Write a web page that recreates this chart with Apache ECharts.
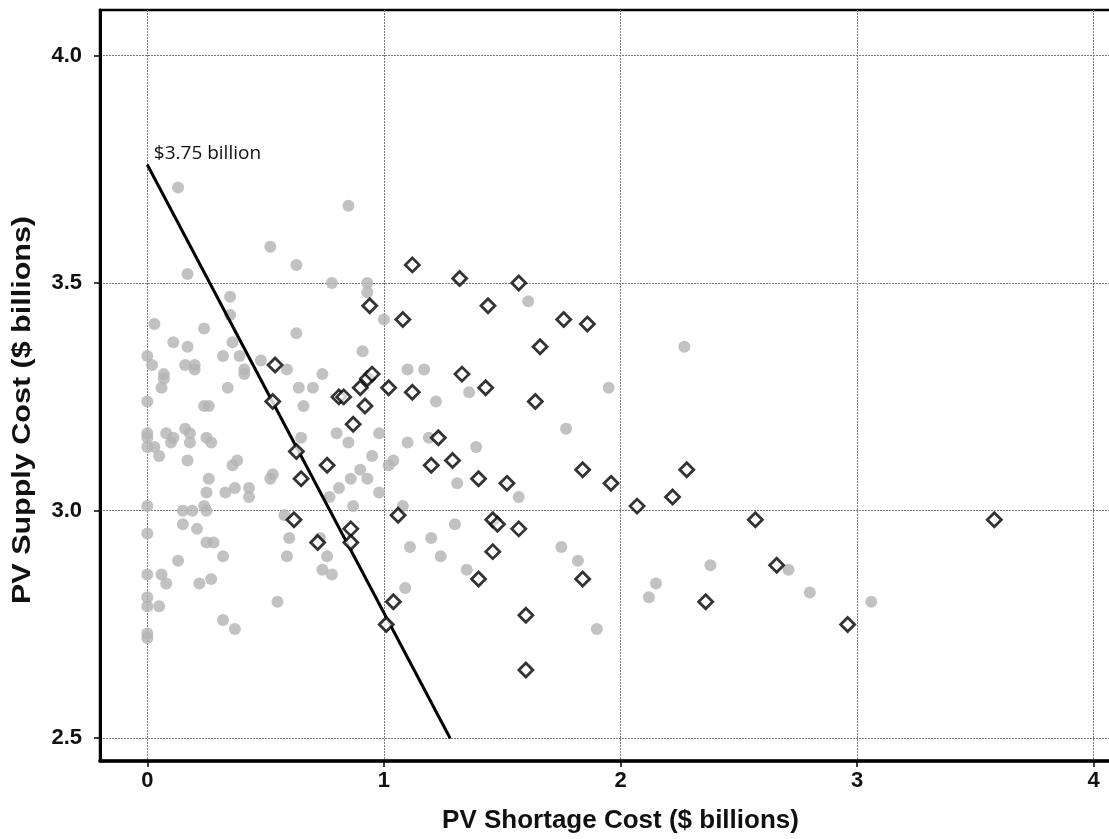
<!DOCTYPE html>
<html>
<head>
<meta charset="utf-8">
<script src="https://cdn.jsdelivr.net/npm/echarts@6/dist/echarts.min.js"></script>
<style>
html,body{margin:0;padding:0;background:#fff;}
#chart{width:1109px;height:839px;}
</style>
</head>
<body>
<div id="chart"></div>
<script>
// ---- Data (PV Shortage Cost, PV Supply Cost), $ billions ----
const grayPoints = [
  [0.13,3.71],[0.85,3.67],[0.52,3.58],[0.63,3.54],[0.17,3.52],[0.78,3.50],[0.93,3.50],[0.93,3.48],
  [0.35,3.47],[0.35,3.43],[1.00,3.42],[0.03,3.41],[0.24,3.40],[0.63,3.39],[1.61,3.46],[0.11,3.37],
  [0.17,3.36],[0.36,3.37],[2.27,3.36],[0.91,3.35],[0.00,3.34],[0.02,3.32],[0.32,3.34],[0.39,3.34],
  [0.48,3.33],[0.59,3.31],[0.16,3.32],[0.20,3.32],[0.20,3.31],[0.07,3.30],[0.07,3.29],[0.06,3.27],
  [0.41,3.31],[0.41,3.30],[0.34,3.27],[0.64,3.27],[0.70,3.27],[0.74,3.30],[1.10,3.31],[1.17,3.31],
  [1.36,3.26],[1.95,3.27],[0.00,3.24],[0.24,3.23],[0.26,3.23],[0.66,3.23],[1.22,3.24],[1.77,3.18],
  [0.00,3.17],[0.00,3.16],[0.08,3.17],[0.11,3.16],[0.10,3.15],[0.16,3.18],[0.18,3.17],[0.18,3.15],
  [0.25,3.16],[0.27,3.15],[0.65,3.16],[0.80,3.17],[0.85,3.15],[0.98,3.17],[1.10,3.15],[1.19,3.16],
  [1.39,3.14],[0.00,3.14],[0.03,3.14],[0.05,3.12],[0.17,3.11],[0.36,3.10],[0.38,3.11],[0.53,3.08],
  [0.52,3.07],[0.26,3.07],[0.95,3.12],[1.04,3.11],[1.02,3.10],[0.90,3.09],[0.93,3.07],[0.86,3.07],
  [0.81,3.05],[0.77,3.03],[0.98,3.04],[1.31,3.06],[1.57,3.03],[0.25,3.04],[0.33,3.04],[0.37,3.05],
  [0.43,3.05],[0.43,3.03],[0.00,3.01],[0.15,3.00],[0.19,3.00],[0.24,3.01],[0.25,3.00],[0.58,2.99],
  [0.87,3.01],[1.08,3.01],[1.30,2.97],[0.15,2.97],[0.21,2.96],[0.00,2.95],[0.25,2.93],[0.28,2.93],
  [0.60,2.94],[0.73,2.94],[1.20,2.94],[0.32,2.90],[0.59,2.90],[0.13,2.89],[0.76,2.90],[0.74,2.87],
  [0.78,2.86],[1.11,2.92],[1.24,2.90],[1.35,2.87],[1.75,2.92],[1.82,2.89],[0.00,2.86],[0.06,2.86],
  [0.08,2.84],[0.22,2.84],[0.27,2.85],[1.09,2.83],[0.00,2.81],[0.00,2.79],[0.05,2.79],[0.55,2.80],
  [0.32,2.76],[0.37,2.74],[0.00,2.73],[0.00,2.72],[2.15,2.84],[2.12,2.81],[1.90,2.74],[2.38,2.88],
  [2.71,2.87],[2.80,2.82],[3.06,2.80]
];
const diamondPoints = [
  [1.12,3.54],[1.32,3.51],[1.57,3.50],[1.44,3.45],[0.94,3.45],[1.08,3.42],[1.76,3.42],[1.86,3.41],
  [1.66,3.36],[0.54,3.32],[1.33,3.30],[0.93,3.29],[0.95,3.30],[0.90,3.27],[1.02,3.27],[1.43,3.27],
  [1.12,3.26],[0.81,3.25],[0.83,3.25],[0.53,3.24],[1.64,3.24],[0.92,3.23],[0.87,3.19],[1.23,3.16],
  [0.63,3.13],[1.20,3.10],[1.29,3.11],[0.76,3.10],[0.65,3.07],[1.40,3.07],[1.52,3.06],[1.84,3.09],
  [1.96,3.06],[2.28,3.09],[2.22,3.03],[2.07,3.01],[0.62,2.98],[1.06,2.99],[1.46,2.98],[1.48,2.97],
  [1.57,2.96],[2.57,2.98],[3.58,2.98],[0.86,2.96],[0.86,2.93],[0.72,2.93],[1.46,2.91],[1.40,2.85],
  [1.84,2.85],[2.66,2.88],[1.04,2.80],[2.36,2.80],[1.01,2.75],[1.60,2.77],[2.96,2.75],[1.60,2.65]
];
const budgetLine = [[0,3.76],[1.28,2.5]];
const budgetLabel = '$3.75 billion';
const xTicks = [0,1,2,3,4];
const yTicks = [2.5,3.0,3.5,4.0];
const xTitle = 'PV Shortage Cost ($ billions)';
const yTitle = 'PV Supply Cost ($ billions)';

const chart = echarts.init(document.getElementById('chart'), null, {renderer:'canvas'});
const gridLine = {show:true, lineStyle:{color:'#7a7a7a', width:1, type:[2,1]}};
const FONT = 'Liberation Sans, Arial, sans-serif';
const tickFont = {fontFamily:FONT, fontWeight:'bold', fontSize:22, color:'#111'};

chart.setOption({
  backgroundColor:'#fff',
  animation:false,
  grid:{left:100, top:10, width:1041, height:751, outerBoundsMode:'none', containLabel:false,
        show:true, borderColor:'#000', borderWidth:2.5, backgroundColor:'transparent'},
  xAxis:{
    type:'value', min:-0.2, max:4.2,
    name:xTitle, nameLocation:'middle', nameGap:47,
    nameTextStyle:{fontFamily:FONT, fontWeight:'bold', fontSize:26, color:'#111'},
    axisLine:{show:true, onZero:false, lineStyle:{color:'#000', width:3.5}},
    axisTick:{show:true, customValues:xTicks, length:6, lineStyle:{color:'#000', width:1.5}},
    axisLabel:Object.assign({customValues:xTicks, margin:9, formatter:v=>String(Math.round(v))}, tickFont),
    splitLine:gridLine
  },
  yAxis:{
    type:'value', min:2.45, max:4.1,
    axisLine:{show:true, onZero:false, lineStyle:{color:'#000', width:3}},
    axisTick:{show:true, customValues:yTicks, length:6, lineStyle:{color:'#000', width:1.5}},
    axisLabel:Object.assign({customValues:yTicks, margin:18, formatter:v=>v.toFixed(1)}, tickFont),
    splitLine:gridLine
  },
  graphic:[{
    type:'text', x:23, y:410, rotation:Math.PI/2, scaleX:1.22, scaleY:1,
    style:{text:yTitle, fontFamily:FONT, fontWeight:'bold', fontSize:25, fill:'#111',
           textAlign:'center', textVerticalAlign:'middle', verticalAlign:'middle'}
  }],
  series:[
    {
      type:'scatter', data:grayPoints, symbol:'circle', symbolSize:12,
      itemStyle:{color:'#b3b3b3'}, z:2
    },
    {
      type:'line', data:budgetLine, symbol:'circle', symbolSize:1,
      lineStyle:{color:'#000', width:3}, itemStyle:{color:'#000'}, z:3,
      label:{show:true, formatter:p=>p.dataIndex===0?budgetLabel:'', position:'right', distance:6, offset:[0,-11],
        fontFamily:'Open Sans, Liberation Sans, sans-serif', fontSize:19, color:'#111'}
    },
    {
      type:'scatter', data:diamondPoints, symbol:'diamond', symbolSize:14,
      itemStyle:{color:'#fff', borderColor:'#000', borderWidth:2.8}, z:4
    }
  ]
});
</script>
</body>
</html>
